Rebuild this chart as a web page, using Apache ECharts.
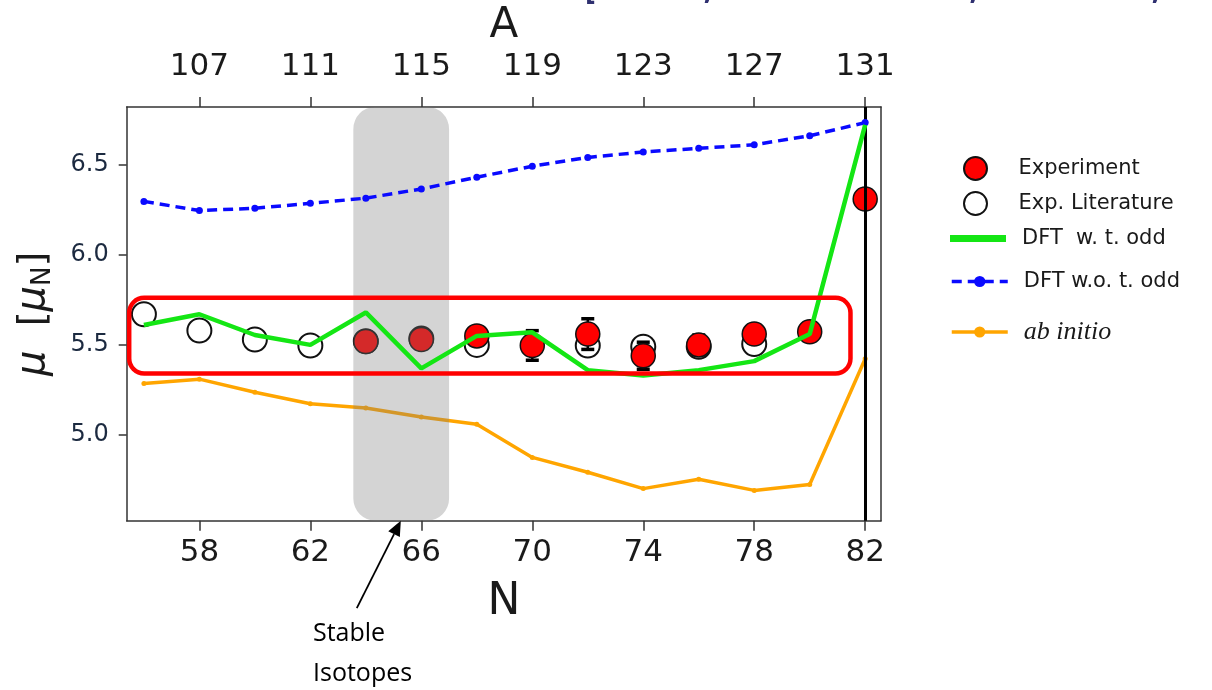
<!DOCTYPE html>
<html>
<head>
<meta charset="utf-8">
<script src="https://cdn.jsdelivr.net/npm/echarts@6/dist/echarts.min.js"></script>
<style>
  html, body { margin: 0; padding: 0; background: #ffffff; }
  #chart { width: 1212px; height: 690px; }
</style>
</head>
<body>
<div id="chart"></div>
<script>
// Neutron number grid shared by the theory curves
const nTheory = [56, 58, 60, 62, 64, 66, 68, 70, 72, 74, 76, 78, 80, 82];
// DFT with time-odd fields
const dftWithOdd = [5.61, 5.67, 5.555, 5.50, 5.68, 5.37, 5.55, 5.57, 5.36, 5.33, 5.36, 5.41, 5.56, 6.72];
// DFT without time-odd fields
const dftWithoutOdd = [6.296, 6.245, 6.258, 6.285, 6.314, 6.365, 6.43, 6.491, 6.54, 6.57, 6.59, 6.61, 6.66, 6.733];
// ab initio results
const abInitio = [5.286, 5.31, 5.237, 5.174, 5.15, 5.10, 5.06, 4.876, 4.794, 4.703, 4.755, 4.693, 4.726, 5.423];

// New measurements with uncertainties
const expN = [64, 66, 68, 70, 72, 74, 76, 78, 80, 82];
const expMu = [5.519, 5.53, 5.55, 5.497, 5.56, 5.44, 5.50, 5.56, 5.573, 6.309];
const expErr = [0.05, 0.05, 0.03, 0.082, 0.085, 0.075, 0.055, 0.04, 0.03, 0.03];

// Previously published values
const litN = [56, 58, 60, 62, 64, 66, 68, 72, 74, 76, 78];
const litMu = [5.67, 5.58, 5.53, 5.497, 5.52, 5.535, 5.50, 5.497, 5.49, 5.49, 5.505];

// Axis ticks
const nTicks = [58, 62, 66, 70, 74, 78, 82];
const aTicks = [107, 111, 115, 119, 123, 127, 131];
const muTicks = [5.0, 5.5, 6.0, 6.5];
const protonNumber = 49;
const nRange = [55.38, 82.57];
const muRange = [4.525, 6.82];

// Annotated regions (in data units)
const stableN = [63.55, 67.0];
const boxN = [55.47, 81.47];
const boxMu = [5.341, 5.761];
const arrowTipN = 65.26;

const chart = echarts.init(document.getElementById('chart'), null, { renderer: 'canvas' });

const axisColor = '#333333';
const tickFont = 'DejaVu Sans';

const option = {
  animation: false,
  backgroundColor: '#ffffff',
  grid: { left: 126.7, right: 331, top: 103, bottom: 169.3 },
  xAxis: [
    {
      type: 'value', position: 'bottom', min: nRange[0], max: nRange[1],
      axisLine: { show: true, onZero: false, lineStyle: { color: axisColor, width: 1.5 } },
      axisTick: { show: true, length: 10, customValues: nTicks, lineStyle: { color: axisColor, width: 1.5 } },
      axisLabel: { customValues: nTicks, fontSize: 31, fontFamily: tickFont, color: '#1a1a1a', margin: 17 },
      splitLine: { show: false },
      name: 'N', nameLocation: 'middle', nameGap: 60,
      nameTextStyle: { fontSize: 44, fontFamily: tickFont, color: '#1a1a1a' }
    },
    {
      type: 'value', position: 'top',
      min: nRange[0] + protonNumber, max: nRange[1] + protonNumber,
      axisLine: { show: true, onZero: false, lineStyle: { color: axisColor, width: 1.5 } },
      axisTick: { show: true, length: 10, customValues: aTicks, lineStyle: { color: axisColor, width: 1.5 } },
      axisLabel: { customValues: aTicks, fontSize: 31, fontFamily: tickFont, color: '#1a1a1a', margin: 24 },
      splitLine: { show: false },
      name: 'A', nameLocation: 'middle', nameGap: 58,
      nameTextStyle: { fontSize: 42, fontFamily: tickFont, color: '#1a1a1a' }
    }
  ],
  yAxis: [
    {
      type: 'value', min: muRange[0], max: muRange[1],
      axisLine: { show: true, onZero: false, lineStyle: { color: axisColor, width: 1.5 } },
      axisTick: { show: true, length: 8, customValues: muTicks, lineStyle: { color: axisColor, width: 1.5 } },
      axisLabel: {
        customValues: muTicks, fontSize: 24, fontFamily: tickFont, color: '#1c2a40', margin: 18,
        formatter: v => v.toFixed(1)
      },
      splitLine: { show: false },
      name: '{m|μ}  [{m|μ}{s|N}]', nameLocation: 'middle', nameGap: 70, nameRotate: 90,
      nameTextStyle: {
        fontSize: 38, fontFamily: tickFont, color: '#1a1a1a',
        rich: {
          m: { fontSize: 40, fontStyle: 'italic', fontFamily: tickFont, color: '#1a1a1a' },
          s: { fontSize: 26, fontFamily: tickFont, color: '#1a1a1a', verticalAlign: 'bottom', lineHeight: 46 }
        }
      }
    },
    {
      type: 'value', position: 'right', min: muRange[0], max: muRange[1],
      axisLine: { show: true, onZero: false, lineStyle: { color: axisColor, width: 1.5 } },
      axisTick: { show: false }, axisLabel: { show: false }, splitLine: { show: false }
    }
  ],
  legend: [],
  series: [
    {
      name: 'Experiment', type: 'scatter', z: 4,
      data: expN.map((n, i) => [n, expMu[i]]),
      symbol: 'circle', symbolSize: 24,
      itemStyle: { color: '#ff0000', borderColor: '#111111', borderWidth: 1.5, opacity: 1 }
    },
    {
      name: 'ab initio', type: 'line', z: 1,
      data: nTheory.map((n, i) => [n, abInitio[i]]),
      lineStyle: { color: '#ffa500', width: 3.5 },
      itemStyle: { color: '#ffa500' },
      symbol: 'circle', symbolSize: 5,
      markLine: {
        silent: true, symbol: ['none', 'none'], label: { show: false },
        lineStyle: { color: '#000000', width: 3, type: 'solid' },
        data: [{ xAxis: 82 }]
      }
    },
    {
      name: 'Exp. Literature', type: 'scatter', z: 2,
      data: litN.map((n, i) => [n, litMu[i]]),
      symbol: 'circle', symbolSize: 24,
      itemStyle: { color: 'rgba(255,255,255,0)', borderColor: '#111111', borderWidth: 2, opacity: 1 }
    },
    {
      name: 'Experiment uncertainty', type: 'custom', z: 3,
      data: expN.map((n, i) => [n, expMu[i] - expErr[i], expMu[i] + expErr[i]]),
      renderItem: function (params, api) {
        const x = api.value(0);
        const top = api.coord([x, api.value(2)]);
        const bot = api.coord([x, api.value(1)]);
        const w = 6.5;
        return {
          type: 'group',
          children: [
            { type: 'line', shape: { x1: top[0], y1: top[1], x2: bot[0], y2: bot[1] }, style: { stroke: '#000', lineWidth: 2.5 } },
            { type: 'line', shape: { x1: top[0] - w, y1: top[1], x2: top[0] + w, y2: top[1] }, style: { stroke: '#000', lineWidth: 3.5 } },
            { type: 'line', shape: { x1: bot[0] - w, y1: bot[1], x2: bot[0] + w, y2: bot[1] }, style: { stroke: '#000', lineWidth: 3.5 } }
          ]
        };
      }
    },
    {
      name: 'DFT w.o. t. odd', type: 'line', z: 6,
      data: nTheory.map((n, i) => [n, dftWithoutOdd[i]]),
      lineStyle: { color: '#0a0aff', width: 3.5, type: [10, 6] },
      itemStyle: { color: '#0a0aff' },
      symbol: 'circle', symbolSize: 7
    },
    {
      name: 'DFT  w. t. odd', type: 'line', z: 7,
      data: nTheory.map((n, i) => [n, dftWithOdd[i]]),
      lineStyle: { color: '#14e614', width: 4.5 },
      itemStyle: { color: '#14e614' },
      symbol: 'none'
    }
  ]
};

// One legend block per entry so each row sits at its own height
const legendRows = [
  { name: 'Experiment', cy: 168, iconW: 26, iconH: 23, left: 963, spacer: 25 },
  { name: 'Exp. Literature', cy: 203, iconW: 26, iconH: 23, left: 963, spacer: 25 },
  { name: 'DFT  w. t. odd', cy: 240, iconW: 56, iconH: 7, left: 950, spacer: 11, icon: 'rect' },
  { name: 'DFT w.o. t. odd', cy: 283, iconW: 56, iconH: 14, left: 950, spacer: 11, lineWidth: 3.5 },
  { name: 'ab initio', cy: 331, iconW: 56, iconH: 14, left: 950, spacer: 11, lineWidth: 3.5, italic: true }
];
option.legend = legendRows.map(r => {
  const lg = {
    data: [r.name], orient: 'vertical', left: r.left, top: r.cy - 12, padding: 0,
    itemWidth: r.iconW, itemHeight: r.iconH, selectedMode: false,
    formatter: name => '{g|}{t|' + name + '}',
    textStyle: {
      rich: {
        g: { width: r.spacer, height: 24 },
        t: r.italic
          ? { fontFamily: 'Liberation Serif', fontStyle: 'italic', fontSize: 26, color: '#1a1a1a' }
          : { fontFamily: 'DejaVu Sans', fontSize: 21, color: '#1a1a1a' }
      }
    }
  };
  if (r.icon) lg.icon = r.icon;
  if (r.lineWidth) lg.lineStyle = { width: r.lineWidth };
  return lg;
});

chart.setOption(option);

// Overlays positioned from data values through the grid's scales
function px(n, mu) { return chart.convertToPixel({ gridIndex: 0 }, [n, mu]); }

const bandTL = px(stableN[0], muRange[1]);
const bandBR = px(stableN[1], muRange[0]);
const boxTL = px(boxN[0], boxMu[1]);
const boxBR = px(boxN[1], boxMu[0]);
const tip = px(arrowTipN, muRange[0]);
const tail = [tip[0] - 44, tip[1] + 87.5];
const dx = tip[0] - tail[0], dy = tip[1] - tail[1];
const len = Math.sqrt(dx * dx + dy * dy);
const ux = dx / len, uy = dy / len;
const headLen = 15, headHalf = 6.5;
const base = [tip[0] - ux * headLen, tip[1] - uy * headLen];

chart.setOption({
  graphic: [
    {
      type: 'rect', z: 5, silent: true,
      shape: { x: bandTL[0], y: bandTL[1], width: bandBR[0] - bandTL[0], height: bandBR[1] - bandTL[1], r: 22 },
      style: { fill: 'rgba(123,123,123,0.33)' }
    },
    {
      type: 'rect', z: 8, silent: true,
      shape: { x: boxTL[0], y: boxTL[1], width: boxBR[0] - boxTL[0], height: boxBR[1] - boxTL[1], r: 15 },
      style: { fill: 'none', stroke: '#ff0000', lineWidth: 4.5 }
    },
    {
      type: 'line', z: 8, silent: true,
      shape: { x1: tail[0], y1: tail[1], x2: base[0], y2: base[1] },
      style: { stroke: '#000000', lineWidth: 1.8 }
    },
    {
      type: 'polygon', z: 8, silent: true,
      shape: {
        points: [
          [tip[0], tip[1]],
          [base[0] - uy * headHalf, base[1] + ux * headHalf],
          [base[0] + uy * headHalf, base[1] - ux * headHalf]
        ]
      },
      style: { fill: '#000000' }
    },
    {
      type: 'text', z: 8, silent: true, left: 313, top: 614,
      style: { text: 'Stable\nIsotopes', font: '25px "Open Sans"', fill: '#000000', lineHeight: 40 }
    },
    {
      type: 'text', z: 8, silent: true, x: 585, y: 5,
      style: {
        text: '[Vernon, Garcia Ruiz et al., Nature 607, 260 (2022)]',
        font: 'bold 30px "Open Sans"', fill: '#2f3070', verticalAlign: 'bottom'
      }
    }
  ]
});
</script>
</body>
</html>
